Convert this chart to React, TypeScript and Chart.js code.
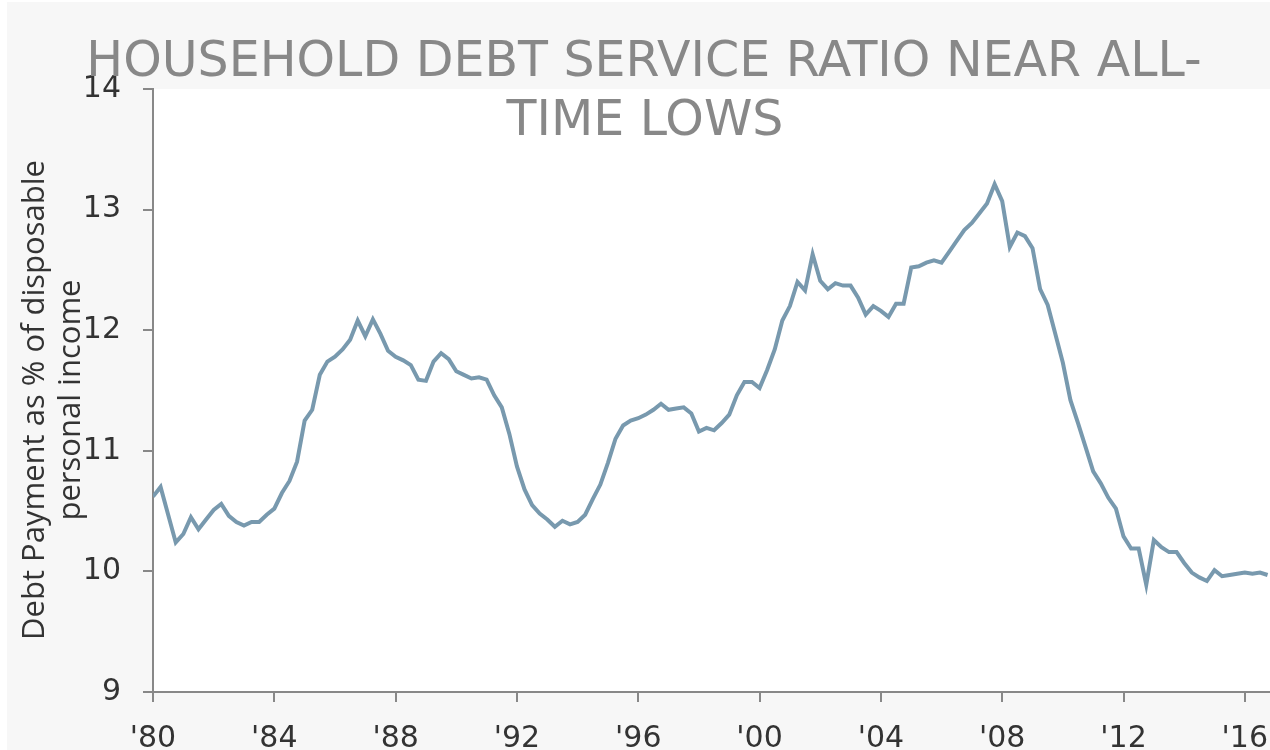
import React, { useEffect, useRef } from "react";
import { Chart, registerables } from "chart.js";

Chart.register(...registerables);

// Quarterly household debt service ratio, 1980 Q1 .. 2016 Q4
const startYear = 1980;
const values: number[] = [
  // 1980
  10.62, 10.70, 10.47, 10.24,
  // 1981
  10.31, 10.45, 10.35, 10.43,
  // 1982
  10.51, 10.56, 10.46, 10.41,
  // 1983
  10.38, 10.41, 10.41, 10.47,
  // 1984
  10.52, 10.65, 10.75, 10.91,
  // 1985
  11.25, 11.34, 11.63, 11.74,
  // 1986
  11.78, 11.84, 11.92, 12.08,
  // 1987
  11.95, 12.09, 11.97, 11.83,
  // 1988
  11.78, 11.75, 11.71, 11.59,
  // 1989
  11.58, 11.74, 11.81, 11.76,
  // 1990
  11.66, 11.63, 11.60, 11.61,
  // 1991
  11.59, 11.46, 11.36, 11.14,
  // 1992
  10.87, 10.68, 10.55, 10.48,
  // 1993
  10.43, 10.37, 10.42, 10.39,
  // 1994
  10.41, 10.47, 10.60, 10.72,
  // 1995
  10.90, 11.10, 11.21, 11.25,
  // 1996
  11.27, 11.30, 11.34, 11.39,
  // 1997
  11.34, 11.35, 11.36, 11.31,
  // 1998
  11.16, 11.19, 11.17, 11.23,
  // 1999
  11.30, 11.46, 11.57, 11.57,
  // 2000
  11.52, 11.67, 11.84, 12.08,
  // 2001
  12.20, 12.40, 12.33, 12.63,
  // 2002
  12.41, 12.34, 12.39, 12.37,
  // 2003
  12.37, 12.27, 12.13, 12.20,
  // 2004
  12.16, 12.11, 12.22, 12.22,
  // 2005
  12.52, 12.53, 12.56, 12.58,
  // 2006
  12.56, 12.65, 12.74, 12.83,
  // 2007
  12.89, 12.97, 13.05, 13.21,
  // 2008
  13.07, 12.69, 12.81, 12.78,
  // 2009
  12.68, 12.34, 12.21, 11.97,
  // 2010
  11.73, 11.42, 11.23, 11.03,
  // 2011
  10.83, 10.73, 10.61, 10.52,
  // 2012
  10.29, 10.19, 10.19, 9.89,
  // 2013
  10.26, 10.20, 10.16, 10.16,
  // 2014
  10.07, 9.99, 9.95, 9.92,
  // 2015
  10.01, 9.96, 9.97, 9.98,
  // 2016
  9.99, 9.98, 9.99, 9.97,
];

const xTickYears: number[] = [1980, 1984, 1988, 1992, 1996, 2000, 2004, 2008, 2012, 2016];
const yTicks: number[] = [9, 10, 11, 12, 13, 14];
const titleLines: string[] = ["HOUSEHOLD DEBT SERVICE RATIO NEAR ALL-", "TIME LOWS"];
const yTitleLines: string[] = ["Debt Payment as % of disposable", "personal income"];

export default function App() {
  const ref = useRef<HTMLCanvasElement | null>(null);

  useEffect(() => {
    if (!ref.current) return;
    const points = values.map((v, i) => ({ x: startYear + i / 4, y: v }));

    const decor = {
      id: "decor",
      beforeDraw(chart: any) {
        const { ctx, chartArea, width, height } = chart;
        ctx.save();
        ctx.fillStyle = "#f7f7f7";
        ctx.fillRect(0, 0, width, height);
        ctx.fillStyle = "#ffffff";
        ctx.fillRect(chartArea.left, chartArea.top, chartArea.right - chartArea.left, chartArea.bottom - chartArea.top);
        ctx.restore();
      },
      afterDraw(chart: any) {
        const { ctx } = chart;
        ctx.save();
        ctx.fillStyle = "#888888";
        ctx.font = "49px 'DejaVu Sans'";
        ctx.textAlign = "center";
        ctx.textBaseline = "alphabetic";
        ctx.fillText(titleLines[0], 637, 74);
        ctx.fillText(titleLines[1], 638, 133);
        ctx.restore();

        ctx.save();
        ctx.fillStyle = "#333333";
        ctx.font = "31px 'Open Sans'";
        ctx.textAlign = "center";
        ctx.textBaseline = "alphabetic";
        const cy = 398;
        const xs = [37, 73];
        yTitleLines.forEach((line, i) => {
          ctx.save();
          ctx.translate(xs[i], cy);
          ctx.rotate(-Math.PI / 2);
          ctx.fillText(line, 0, 0);
          ctx.restore();
        });
        ctx.restore();
      },
    };

    const chart = new Chart(ref.current, {
      type: "line",
      data: {
        datasets: [
          {
            data: points,
            borderColor: "#7899ae",
            borderWidth: 4,
            pointRadius: 0,
            tension: 0,
            fill: false,
          },
        ],
      },
      options: {
        animation: false,
        responsive: true,
        maintainAspectRatio: false,
        layout: { padding: { top: 87, right: 0, left: 0, bottom: 0 } },
        plugins: {
          legend: { display: false },
          title: { display: false },
          tooltip: { enabled: false },
        },
        scales: {
          x: {
            type: "linear",
            min: 1980,
            max: 2016.83,
            afterBuildTicks: (scale: any) => {
              scale.ticks = xTickYears.map((v) => ({ value: v }));
            },
            afterFit: (scale: any) => {
              scale.height = 58;
              scale.paddingLeft = 0;
              scale.paddingRight = 0;
            },
            ticks: {
              autoSkip: false,
              maxRotation: 0,
              padding: 19,
              color: "#333333",
              font: { family: "'DejaVu Sans'", size: 30 },
              callback: (v: any) => "'" + String(v).slice(2),
            },
            grid: {
              drawOnChartArea: false,
              drawTicks: true,
              tickLength: 10,
              color: "#888888",
              lineWidth: 2,
            },
            border: { color: "#888888", width: 2 },
          },
          y: {
            position: "left",
            min: 9,
            max: 14,
            afterBuildTicks: (scale: any) => {
              scale.ticks = yTicks.map((v) => ({ value: v }));
            },
            afterFit: (scale: any) => {
              scale.width = 146;
            },
            ticks: {
              padding: 22,
              color: "#333333",
              font: { family: "'DejaVu Sans'", size: 30 },
            },
            grid: {
              drawOnChartArea: false,
              drawTicks: true,
              tickLength: 10,
              color: "#888888",
              lineWidth: 2,
            },
            border: { color: "#888888", width: 2 },
          },
        },
      },
      plugins: [decor],
    });
    return () => chart.destroy();
  }, []);

  return (
    <div style={{ position: "absolute", left: 7, top: 2, width: 1263, height: 748 }}>
      <canvas ref={ref} />
    </div>
  );
}
